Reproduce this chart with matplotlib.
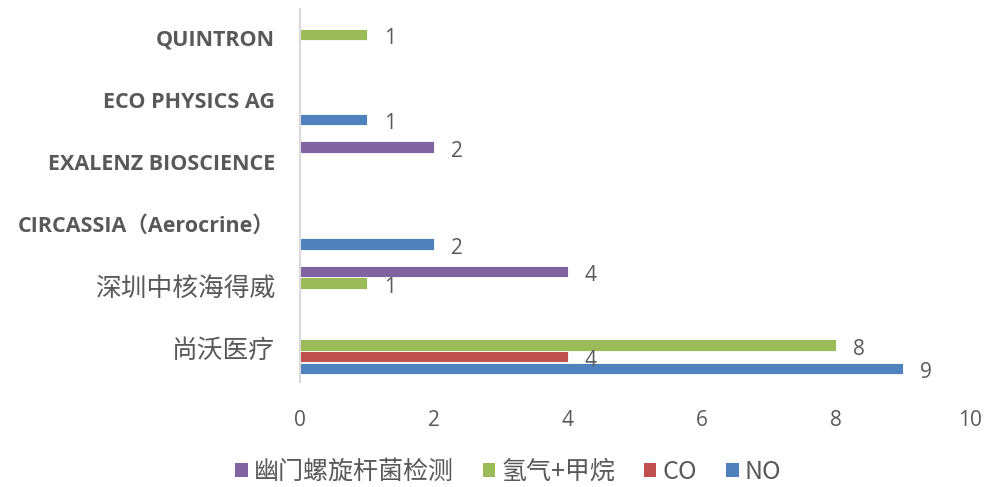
import matplotlib
matplotlib.use("Agg")
import matplotlib.pyplot as plt
from matplotlib.patches import Patch
import numpy as np

categories = ["尚沃医疗", "深圳中核海得威", "CIRCASSIA（Aerocrine）",
              "EXALENZ BIOSCIENCE", "ECO PHYSICS AG", "QUINTRON"]
series_names = ["NO", "CO", "氢气+甲烷", "幽门螺旋杆菌检测"]
no_vals = [9, 0, 2, 0, 1, 0]
co_vals = [4, 0, 0, 0, 0, 0]
h2ch4_vals = [8, 1, 0, 0, 0, 1]
hp_vals = [0, 4, 0, 2, 0, 0]
colors = ["#4F81BD", "#C0504D", "#9BBB59", "#8064A2"]
xticks = [0, 2, 4, 6, 8, 10]

grey = "#595959"
cjk = ["Noto Sans CJK SC", "DejaVu Sans"]
lat = ["Open Sans", "Noto Sans CJK SC", "DejaVu Sans"]

fig = plt.figure(figsize=(9.87, 4.87), dpi=100)
ax = fig.add_axes([300/987, 1-382/487, 670/987, 373/487])

y = np.arange(len(categories))
offsets = [-0.28, -0.093, 0.093, 0.28]
bh = 0.185
all_vals = [no_vals, co_vals, h2ch4_vals, hp_vals]
for vals, off, c in zip(all_vals, offsets, colors):
    ax.barh(y + off, vals, height=bh, color=c, edgecolor="white", linewidth=0.6)
    for yi, v in zip(y, vals):
        if v:
            ax.annotate(str(v), (v, yi + off), xytext=(12, -3), textcoords="offset points",
                        ha="left", va="center", fontsize=15, color=grey, family=lat)

ax.set_xlim(0, 10)
ax.set_ylim(-0.5, len(categories) - 0.5)
ax.set_xticks(xticks)
ax.set_xticklabels([str(t) for t in xticks], fontsize=15, color=grey, family=lat)
ax.set_yticks(y)
ax.set_yticklabels(categories)
for lbl, cat in zip(ax.get_yticklabels(), categories):
    lbl.set_color(grey)
    if any(ord(ch) > 0x2E80 and ch not in "（）" for ch in cat):
        lbl.set_family(cjk)
        lbl.set_fontsize(18.5)
    else:
        lbl.set_family(lat)
        lbl.set_fontweight("bold")
        lbl.set_fontsize(15.5)
    lbl.set_va("center")

ax.tick_params(axis="both", length=0)
ax.tick_params(axis="y", pad=18)
ax.tick_params(axis="x", pad=20)
for s in ["top", "right", "bottom"]:
    ax.spines[s].set_visible(False)
ax.spines["left"].set_color("#D9D9D9")
ax.spines["left"].set_linewidth(1.5)

handles = [Patch(facecolor=colors[i], edgecolor="none") for i in [3, 2, 1, 0]]
labels = [series_names[i] for i in [3, 2, 1, 0]]
leg = fig.legend(handles, labels, loc="center", bbox_to_anchor=(0.515, 1-472/487), ncol=4,
                 frameon=False, prop={"family": cjk, "size": 18}, handlelength=0.5,
                 handleheight=0.5, handletextpad=0.25, columnspacing=1.15)
for t in leg.get_texts():
    t.set_color(grey)

fig.savefig("out.png", dpi=100, facecolor="white")
